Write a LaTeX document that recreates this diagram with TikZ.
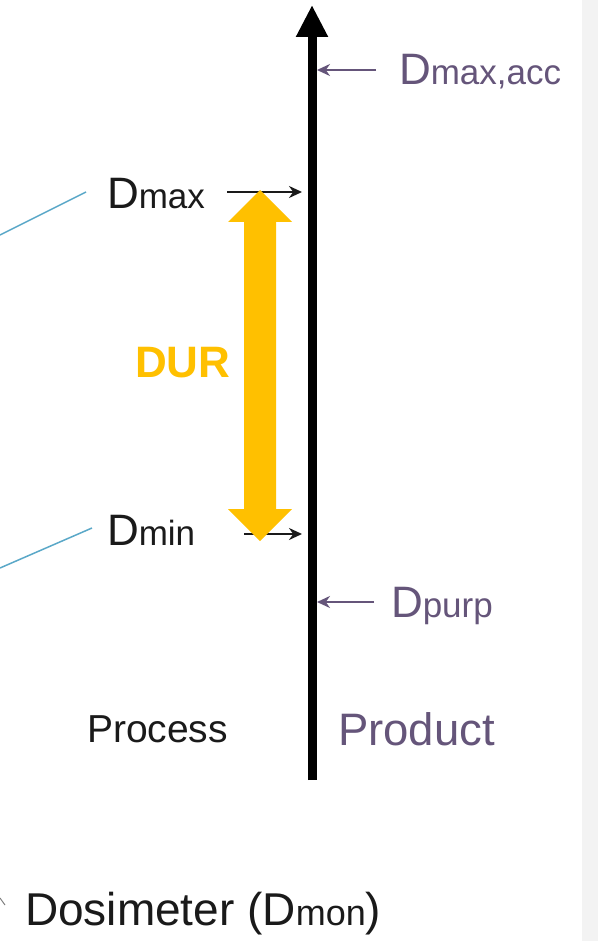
\documentclass[tikz,border=0pt]{standalone}
\usepackage{fontspec}
\setmainfont{Liberation Sans}
\usetikzlibrary{arrows.meta}
\definecolor{gold}{HTML}{FFC000}
\definecolor{purp}{HTML}{65557A}
\definecolor{ink}{HTML}{1A1A1A}
\definecolor{teal}{HTML}{5AA8C8}
\definecolor{strip}{HTML}{F3F3F3}
\newcommand{\bigf}{\fontsize{44}{50}\selectfont}
\newcommand{\subf}{\fontsize{35}{40}\selectfont}
\newcommand{\Dsub}[1]{{\bigf D}{\subf #1}}
\tikzset{
  lbl/.style={inner sep=0pt, outer sep=0pt, anchor=base west},
  pointer/.style={line width=2.4pt, -{Stealth[length=13pt,width=12pt]}},
  guide/.style={teal, line width=1.5pt},
}
\begin{document}
\begin{tikzpicture}[x=1pt,y=-1pt]
\useasboundingbox (0,0) rectangle (598,941);
\fill[white] (0,0) rectangle (598,941);
\fill[strip] (582,0) rectangle (598,941);
% main axis
\coordinate (axtop) at (312,5);
\coordinate (axbot) at (312,780);
\draw[line width=9pt, -{Triangle[length=32pt,width=30pt]}] (axbot) -- (axtop);
% product side
\node[lbl, text=purp] (dmaxacc) at (399,85) {\Dsub{max,acc}};
\coordinate (pacc) at (317,70);
\coordinate (sacc) at (376,70);
\draw[pointer, purp] (sacc) -- (pacc);
\node[lbl, text=purp] (dpurp) at (391,617) {\Dsub{purp}};
\coordinate (ppurp) at (317,602);
\coordinate (spurp) at (374,602);
\draw[pointer, purp] (spurp) -- (ppurp);
\node[lbl, text=purp] (product) at (338,745) {\fontsize{45.5}{50}\selectfont Product};
% process side
\node[lbl, text=ink] (dmax) at (107,208) {\Dsub{max}};
\coordinate (smax) at (227,192);
\coordinate (pmax) at (302,192);
\draw[pointer, ink] (smax) -- (pmax);
\node[lbl, text=ink] (dmin) at (107,545) {\Dsub{min}};
\coordinate (smin) at (244,534);
\coordinate (pmin) at (302,534);
\draw[pointer, ink] (smin) -- (pmin);
\node[lbl, text=ink] (process) at (87,742) {\fontsize{39}{44}\selectfont Process};
% DUR arrow
\fill[gold] (260,190) -- (292,222) -- (276,222) -- (276,509) -- (292,509)
  -- (260,541) -- (228,509) -- (244,509) -- (244,222) -- (228,222) -- cycle;
\node[lbl, text=gold] (dur) at (135,377) {\fontsize{44}{50}\selectfont\bfseries DUR};
% guide lines
\coordinate (g1a) at (0,235);
\coordinate (g1b) at (86,192);
\draw[guide] (g1a) -- (g1b);
\coordinate (g2a) at (0,568);
\coordinate (g2b) at (92,528);
\draw[guide] (g2a) -- (g2b);
% dosimeter
\coordinate (t1) at (0,898);
\coordinate (t2) at (5,905);
\draw[gray, line width=1pt] (t1) -- (t2);
\node[lbl, text=ink] (dosi) at (25,925) {\fontsize{46}{50}\selectfont Dosimeter ({\fontsize{46}{50}\selectfont D}{\fontsize{36}{40}\selectfont mon})};
\end{tikzpicture}
\end{document}
